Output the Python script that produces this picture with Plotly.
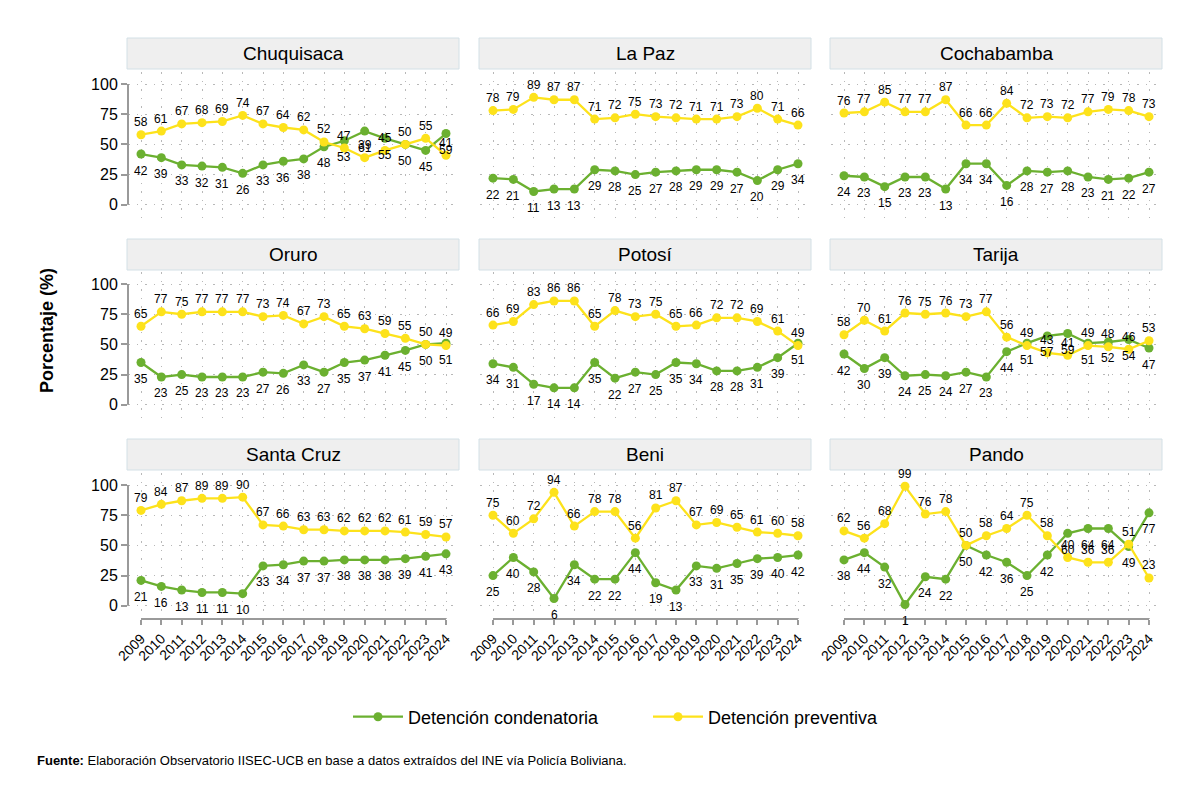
import plotly.graph_objects as go

years = list(range(2009, 2025))
regions = ["Chuquisaca", "La Paz", "Cochabamba", "Oruro", "Potosí", "Tarija",
           "Santa Cruz", "Beni", "Pando"]

# Detención condenatoria (%)
cond_chuquisaca = [42, 39, 33, 32, 31, 26, 33, 36, 38, 48, 53, 61, 55, 50, 45, 59]
cond_lapaz = [22, 21, 11, 13, 13, 29, 28, 25, 27, 28, 29, 29, 27, 20, 29, 34]
cond_cochabamba = [24, 23, 15, 23, 23, 13, 34, 34, 16, 28, 27, 28, 23, 21, 22, 27]
cond_oruro = [35, 23, 25, 23, 23, 23, 27, 26, 33, 27, 35, 37, 41, 45, 50, 51]
cond_potosi = [34, 31, 17, 14, 14, 35, 22, 27, 25, 35, 34, 28, 28, 31, 39, 51]
cond_tarija = [42, 30, 39, 24, 25, 24, 27, 23, 44, 51, 57, 59, 51, 52, 54, 47]
cond_santacruz = [21, 16, 13, 11, 11, 10, 33, 34, 37, 37, 38, 38, 38, 39, 41, 43]
cond_beni = [25, 40, 28, 6, 34, 22, 22, 44, 19, 13, 33, 31, 35, 39, 40, 42]
cond_pando = [38, 44, 32, 1, 24, 22, 50, 42, 36, 25, 42, 60, 64, 64, 49, 77]

# Detención preventiva (%)
prev_chuquisaca = [58, 61, 67, 68, 69, 74, 67, 64, 62, 52, 47, 39, 45, 50, 55, 41]
prev_lapaz = [78, 79, 89, 87, 87, 71, 72, 75, 73, 72, 71, 71, 73, 80, 71, 66]
prev_cochabamba = [76, 77, 85, 77, 77, 87, 66, 66, 84, 72, 73, 72, 77, 79, 78, 73]
prev_oruro = [65, 77, 75, 77, 77, 77, 73, 74, 67, 73, 65, 63, 59, 55, 50, 49]
prev_potosi = [66, 69, 83, 86, 86, 65, 78, 73, 75, 65, 66, 72, 72, 69, 61, 49]
prev_tarija = [58, 70, 61, 76, 75, 76, 73, 77, 56, 49, 43, 41, 49, 48, 46, 53]
prev_santacruz = [79, 84, 87, 89, 89, 90, 67, 66, 63, 63, 62, 62, 62, 61, 59, 57]
prev_beni = [75, 60, 72, 94, 66, 78, 78, 56, 81, 87, 67, 69, 65, 61, 60, 58]
prev_pando = [62, 56, 68, 99, 76, 78, 50, 58, 64, 75, 58, 40, 36, 36, 51, 23]

cond_all = [cond_chuquisaca, cond_lapaz, cond_cochabamba, cond_oruro, cond_potosi,
            cond_tarija, cond_santacruz, cond_beni, cond_pando]
prev_all = [prev_chuquisaca, prev_lapaz, prev_cochabamba, prev_oruro, prev_potosi,
            prev_tarija, prev_santacruz, prev_beni, prev_pando]

y_ticks = [0, 25, 50, 75, 100]
series_names = ["Detención condenatoria", "Detención preventiva"]

# ---- styling / layout ----
W, H = 1200, 801
GREEN = "#6bb030"
YELLOW = "#fde21b"
AXIS_GRAY = "#9a9a9a"
GRID = "#b8b8b8"
FONT = "Liberation Sans, Arial, sans-serif"

col_left = [128, 480, 831]
panel_w = 330
row_top = [72, 272, 473]
panel_h = 146
strip_top = [38, 239, 439]
strip_h = 31
x_range = [2008.36, 2024.59]
y_range = [-11, 110]


def px(x):
    return x / W


def py(y):
    return 1 - y / H


fig = go.Figure()
layout = dict(
    width=W, height=H, margin=dict(l=0, r=0, t=0, b=0, autoexpand=False),
    paper_bgcolor="white", plot_bgcolor="white",
    font=dict(family=FONT, color="black"),
    showlegend=True,
)
shapes = []
annotations = []

for i, name in enumerate(regions):
    r, c = divmod(i, 3)
    k = i + 1
    xa = "xaxis" if k == 1 else f"xaxis{k}"
    ya = "yaxis" if k == 1 else f"yaxis{k}"
    xr = "x" if k == 1 else f"x{k}"
    yr = "y" if k == 1 else f"y{k}"
    x0 = col_left[c]
    y0 = row_top[r]
    layout[xa] = dict(
        domain=[px(x0), px(x0 + panel_w)], range=x_range, anchor=yr,
        tickmode="array", tickvals=years, ticktext=[str(y) for y in years],
        showticklabels=(r == 2), ticks="outside" if r == 2 else "",
        ticklen=5, tickwidth=1.5, tickcolor=AXIS_GRAY, tickangle=-45,
        tickfont=dict(size=14, family=FONT),
        showgrid=True, gridcolor=GRID, griddash="1.5px,7px", gridwidth=1.2,
        zeroline=False, showline=False, fixedrange=True, automargin=False,
    )
    layout[ya] = dict(
        domain=[py(y0 + panel_h), py(y0)], range=y_range, anchor=xr,
        tickmode="array", tickvals=y_ticks,
        showticklabels=(c == 0), ticks="outside" if c == 0 else "",
        ticklen=6, tickwidth=1.5, tickcolor=AXIS_GRAY,
        tickfont=dict(size=16, family=FONT),
        showgrid=True, gridcolor=GRID, griddash="1.5px,7px", gridwidth=1.2,
        zeroline=False, showline=False, fixedrange=True, automargin=False,
    )

    cond = cond_all[i]
    prev = prev_all[i]
    fig.add_trace(go.Scatter(
        x=years, y=cond, mode="lines+markers", name=series_names[0],
        line=dict(color=GREEN, width=2.3), marker=dict(color=GREEN, size=9),
        xaxis=xr, yaxis=yr, showlegend=(i == 0), legendgroup="c",
        hoverinfo="skip"))
    fig.add_trace(go.Scatter(
        x=years, y=prev, mode="lines+markers", name=series_names[1],
        line=dict(color=YELLOW, width=2.3), marker=dict(color=YELLOW, size=9),
        xaxis=xr, yaxis=yr, showlegend=(i == 0), legendgroup="p",
        hoverinfo="skip"))

    for yv, cv, pv in zip(years, cond, prev):
        annotations.append(dict(x=yv, y=cv, xref=xr, yref=yr, text=str(cv),
                                showarrow=False, yshift=-16.5,
                                font=dict(size=12, family=FONT, color="black")))
        annotations.append(dict(x=yv, y=pv, xref=xr, yref=yr, text=str(pv),
                                showarrow=False, yshift=12.5,
                                font=dict(size=12, family=FONT, color="black")))

    # strip header
    shapes.append(dict(type="rect", xref="paper", yref="paper",
                       x0=px(x0 - 1), x1=px(x0 + panel_w + 1),
                       y0=py(strip_top[r] + strip_h), y1=py(strip_top[r]),
                       fillcolor="#efefef", line=dict(color="#d3e0e6", width=1),
                       layer="below"))
    annotations.append(dict(x=px(x0 + panel_w / 2), y=py(strip_top[r] + strip_h / 2),
                            xref="paper", yref="paper", text=name, showarrow=False,
                            xanchor="center", yanchor="middle",
                            font=dict(size=19, family=FONT, color="black")))

    # axis lines spanning data range only
    if c == 0:
        shapes.append(dict(type="line", xref=f"{xr} domain", yref=yr,
                           x0=0, x1=0, y0=0, y1=100,
                           line=dict(color=AXIS_GRAY, width=2)))
    if r == 2:
        shapes.append(dict(type="line", xref=xr, yref=f"{yr} domain",
                           x0=2009, x1=2024, y0=0, y1=0,
                           line=dict(color=AXIS_GRAY, width=2)))

# y-axis title
annotations.append(dict(x=px(47), y=py(331), xref="paper", yref="paper",
                        text="<b>Porcentaje (%)</b>", showarrow=False, textangle=-90,
                        xanchor="center", yanchor="middle",
                        font=dict(size=18, family=FONT, color="black")))
# source note
annotations.append(dict(x=px(35), y=py(760), xref="paper", yref="paper",
                        text="<b>Fuente:</b> Elaboración Observatorio IISEC-UCB en base a datos extraídos del INE vía Policía Boliviana.",
                        showarrow=False, xanchor="left", yanchor="middle",
                        font=dict(size=13, family=FONT, color="black")))

layout["shapes"] = shapes
layout["annotations"] = annotations
layout["legend"] = dict(orientation="h", x=px(648), xanchor="center",
                        y=py(717), yanchor="middle",
                        font=dict(size=18, family=FONT, color="black"),
                        itemwidth=50, entrywidth=235, bgcolor="rgba(0,0,0,0)")
fig.update_layout(**layout)
fig.write_html("out.html",
               post_script="document.body.style.margin='0';document.body.style.overflow='hidden';")
